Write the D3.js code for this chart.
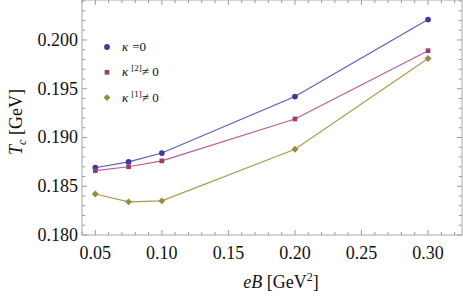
<!DOCTYPE html>
<html>
<head>
<meta charset="utf-8">
<script src="https://d3js.org/d3.v7.min.js"></script>
</head>
<body style="margin:0">
<script>
// Data
var eB = [0.05, 0.075, 0.10, 0.20, 0.30];
var tcKappa0 = [0.1869, 0.1875, 0.1884, 0.1942, 0.2021];
var tcKappa2 = [0.1866, 0.1870, 0.1876, 0.1919, 0.1989];
var tcKappa1 = [0.1842, 0.1834, 0.1835, 0.1888, 0.1981];
var xTicks = [0.05, 0.10, 0.15, 0.20, 0.25, 0.30];
var yTicks = [0.180, 0.185, 0.190, 0.195, 0.200];

var W = 463, H = 297;
var margin = {top: 0, right: 1, bottom: 62, left: 82};
var width = W - margin.left - margin.right,
    height = H - margin.top - margin.bottom;
var serif = "Liberation Serif";

var root = d3.select("body").append("svg")
    .attr("width", W)
    .attr("height", H);
var svg = root.append("g")
    .attr("transform", "translate(" + margin.left + "," + margin.top + ")");

var x = d3.scaleLinear().domain([0.04, 0.3255]).range([0, width]);
var y = d3.scaleLinear().domain([0.180, 0.2041]).range([height, 0]);

var tickColor = "#999";

// minor ticks
var xMinor = d3.range(0.04, 0.3255, 0.01).filter(function(v) {
  return Math.abs(v * 20 - Math.round(v * 20)) > 1e-6;
});
var yMinor = d3.range(0.180, 0.2041, 0.001).filter(function(v) {
  return Math.abs(v * 200 - Math.round(v * 200)) > 1e-6;
});

function drawXTicks(vals, len) {
  vals.forEach(function(v) {
    svg.append("line").attr("x1", x(v)).attr("x2", x(v))
      .attr("y1", height).attr("y2", height - len).attr("stroke", tickColor);
    svg.append("line").attr("x1", x(v)).attr("x2", x(v))
      .attr("y1", 0).attr("y2", len).attr("stroke", tickColor);
  });
}
drawXTicks(xTicks, 5);
drawXTicks(xMinor, 3);

function drawYTicks(vals, len) {
  vals.forEach(function(v) {
    svg.append("line").attr("x1", 0).attr("x2", len)
      .attr("y1", y(v)).attr("y2", y(v)).attr("stroke", tickColor);
    svg.append("line").attr("x1", width).attr("x2", width - len)
      .attr("y1", y(v)).attr("y2", y(v)).attr("stroke", tickColor);
  });
}
drawYTicks(yTicks, 5);
drawYTicks(yMinor, 3);

// frame
svg.append("rect")
    .attr("x", 0).attr("y", 0)
    .attr("width", width).attr("height", height)
    .attr("fill", "none").attr("stroke", "#a8a8a8");

// tick labels from the scales
svg.selectAll(".xlab")
    .data(xTicks)
  .enter().append("text")
    .attr("class", "xlab")
    .attr("x", function(d) { return x(d); })
    .attr("y", height + 24)
    .attr("text-anchor", "middle")
    .attr("font-size", 18)
    .attr("fill", "#111")
    .text(d3.format(".2f"));
svg.selectAll(".ylab")
    .data(yTicks)
  .enter().append("text")
    .attr("class", "ylab")
    .attr("x", -4)
    .attr("y", function(d) { return y(d) + 6; })
    .attr("text-anchor", "end")
    .attr("font-size", 18)
    .attr("fill", "#111")
    .text(d3.format(".3f"));

// diamond: a rotated square
var diamond = {
  draw: function(ctx, size) {
    var r = Math.sqrt(size / 2);
    ctx.moveTo(0, -r); ctx.lineTo(r, 0); ctx.lineTo(0, r); ctx.lineTo(-r, 0); ctx.closePath();
  }
};

// series
var series = [
  {vals: tcKappa0, line: "#5b5bb8", mark: "#3d3d99", shape: d3.symbolCircle, size: 26},
  {vals: tcKappa2, line: "#b95c94", mark: "#993d71", shape: d3.symbolSquare, size: 22},
  {vals: tcKappa1, line: "#a8994c", mark: "#998b3d", shape: diamond, size: 24}
];

var line = d3.line()
    .x(function(d) { return x(d[0]); })
    .y(function(d) { return y(d[1]); });

series.forEach(function(s) {
  var pts = eB.map(function(e, i) { return [e, s.vals[i]]; });
  svg.append("path")
      .datum(pts)
      .attr("fill", "none")
      .attr("stroke", s.line)
      .attr("stroke-width", 1.1)
      .attr("d", line);
  svg.selectAll(null)
      .data(pts)
    .enter().append("path")
      .attr("transform", function(d) { return "translate(" + x(d[0]) + "," + y(d[1]) + ")"; })
      .attr("d", d3.symbol().type(s.shape).size(s.size))
      .attr("fill", s.mark);
});

// legend
var legend = svg.append("g").attr("transform", "translate(25,47)");
var legendLabels = [
  {sup: null, rel: "=0"},
  {sup: "[2]", rel: "\u2260 0"},
  {sup: "[1]", rel: "\u2260 0"}
];
legendLabels.forEach(function(l, i) {
  var g = legend.append("g").attr("transform", "translate(0," + (i * 25.3) + ")");
  g.append("path")
    .attr("d", d3.symbol().type(series[i].shape).size(series[i].size))
    .attr("fill", series[i].mark);
  var t = g.append("text").attr("x", 15).attr("y", 4)
    .attr("font-size", 13).attr("fill", "#111");
  t.append("tspan").attr("font-style", "italic").text("\u03ba");
  if (l.sup) {
    t.append("tspan").attr("dx", 3).attr("dy", -5).attr("font-size", 9).text(l.sup);
    t.append("tspan").attr("dy", 5).text(l.rel);
  } else {
    t.append("tspan").attr("dx", 4).text(l.rel);
  }
});

// axis titles
var xt = svg.append("text")
    .attr("x", 281 - margin.left)
    .attr("y", 288)
    .attr("text-anchor", "middle")
    .attr("font-size", 18)
    .attr("fill", "#111");
xt.append("tspan").attr("font-style", "italic").text("eB");
xt.append("tspan").text(" [GeV");
xt.append("tspan").attr("dy", -7).attr("font-size", 12).text("2");
xt.append("tspan").attr("dy", 7).text("]");

var yt = svg.append("text")
    .attr("transform", "translate(" + (22 - margin.left) + "," + 122 + ") rotate(-90)")
    .attr("text-anchor", "middle")
    .attr("font-size", 18)
    .attr("fill", "#111");
yt.append("tspan").attr("font-style", "italic").text("T");
yt.append("tspan").attr("dy", 4).attr("font-size", 12).attr("font-style", "italic").text("c");
yt.append("tspan").attr("dy", -4).text(" [GeV]");

// serif font on every text, as attribute and as inline style
root.selectAll("text")
    .attr("font-family", serif)
    .style("font-family", serif, "important");
</script>
</body>
</html>
